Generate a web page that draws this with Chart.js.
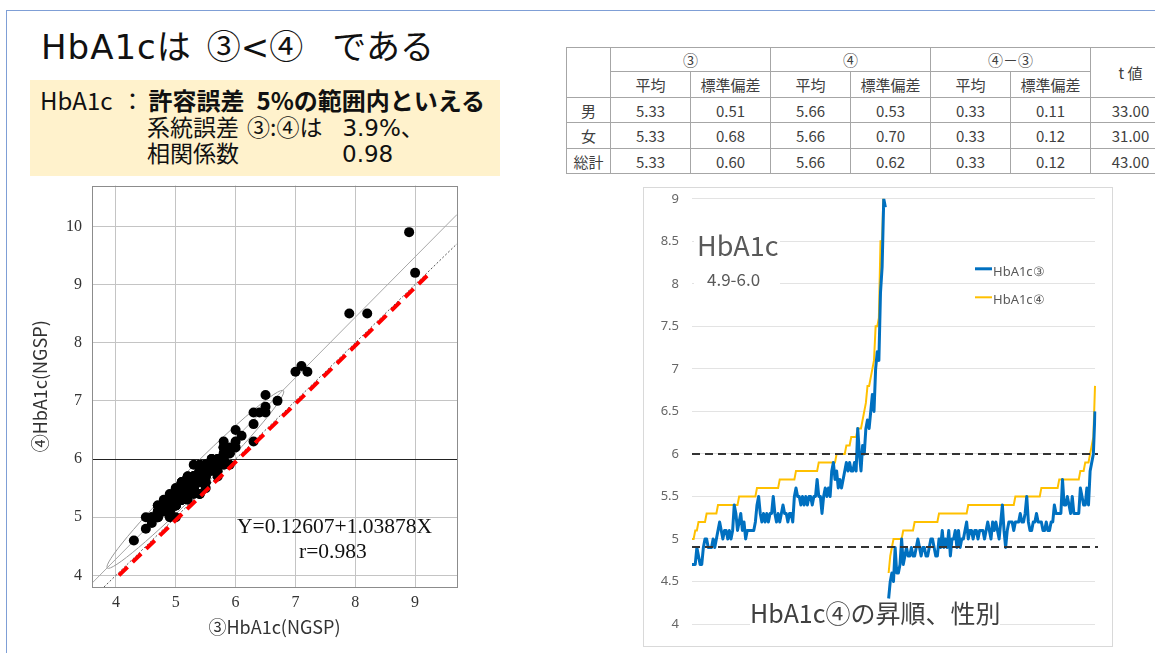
<!DOCTYPE html>
<html><head><meta charset="utf-8">
<script src="https://cdn.jsdelivr.net/npm/chart.js@4.4.1/dist/chart.umd.min.js"></script>
<style>
html,body{margin:0;padding:0;width:1155px;height:653px;overflow:hidden;background:#fff;}
body{position:relative;font-family:"Noto Sans CJK JP","Noto Sans",sans-serif;color:#222;}
.abs{position:absolute;white-space:nowrap;line-height:1;}
#frame{position:absolute;left:6px;top:10px;width:1300px;height:800px;border-left:1.5px solid #7f9fd6;border-top:1.5px solid #7f9fd6;}
#ybox{position:absolute;left:30px;top:80px;width:470px;height:96px;background:#FFF2CC;}
#tbl{position:absolute;left:566px;top:47px;width:684px;border-collapse:collapse;table-layout:fixed;font-size:15px;color:#404040;font-family:"Noto Sans CJK JP",sans-serif;}
#tbl td{border:1px solid #a6a6a6;text-align:center;padding:0;line-height:1;}
#lineWrap{position:absolute;left:643px;top:187px;width:470px;height:460px;border:1px solid #d9d9d9;box-sizing:border-box;}
#lineCanvas{position:absolute;left:644px;top:178px;}
#scatterCanvas{position:absolute;left:20px;top:166px;}
.serif{font-family:"Liberation Serif","Times New Roman",serif;color:#111;}
.lat{font-family:"DejaVu Sans",sans-serif;}
.cjk{font-family:"Noto Sans CJK JP",sans-serif;}
</style></head>
<body>
<div id="frame"></div>

<div class="abs" style="left:41px;top:28px;font-size:34px;color:#111;"><span class="lat" style="letter-spacing:1px">HbA1c</span><span class="cjk">は</span><span class="cjk" style="margin-left:16px">③</span><span class="lat">&lt;</span><span class="cjk">④</span><span class="cjk" style="margin-left:29px">である</span></div>

<div id="ybox"></div>
<div class="abs" style="left:40px;top:88px;font-size:24px;color:#111;">HbA1c<span style="margin-left:8px">：</span><b style="margin-left:4px">許容誤差</b><b style="margin-left:12px">5%の範囲内といえる</b></div>
<div class="abs" style="left:147px;top:115px;font-size:23px;color:#111;">系統誤差<span style="margin-left:8px">③:④は</span><span class="lat" style="margin-left:20px">3.9%</span>、</div>
<div class="abs" style="left:147px;top:141px;font-size:23px;color:#111;">相関係数<span class="lat" style="margin-left:103px">0.98</span></div>

<table id="tbl"></table>

<canvas id="scatterCanvas" width="450" height="479"></canvas>
<div class="abs serif" style="left:237px;top:516px;font-size:21.5px;">Y=0.12607+1.03878X</div>
<div class="abs serif" style="left:299px;top:541px;font-size:21.5px;">r=0.983</div>

<div id="lineWrap"></div>
<canvas id="lineCanvas" width="468" height="468"></canvas>
<div class="abs" style="left:694px;top:226px;width:86px;height:64px;background:#fff;"></div>
<div class="abs" style="left:697px;top:231px;font-size:27px;color:#595959;">HbA1c</div>
<div class="abs" style="left:707px;top:270px;font-size:17px;color:#595959;">4.9-6.0</div>
<div class="abs" style="left:750px;top:600px;font-size:25px;color:#404040;background:#fff;">HbA1c④の昇順、性別</div>

<script>
// ---------- table data ----------
const tblRowLabels = ['男','女','総計'];
const tblMean3 = [5.33,5.33,5.33];
const tblSd3   = [0.51,0.68,0.60];
const tblMean4 = [5.66,5.66,5.66];
const tblSd4   = [0.53,0.70,0.62];
const tblMeanD = [0.33,0.33,0.33];
const tblSdD   = [0.11,0.12,0.12];
const tblT     = [33.00,31.00,43.00];

// ---------- scatter axis ticks / reference lines ----------
const scatterXTicks = [4,5,6,7,8,9];
const scatterYTicks = [4,5,6,7,8,9,10];
const regressionLine = [{x:3.6,y:3.866},{x:9.7,y:10.203}];
const identityLine   = [{x:3.8,y:3.8},{x:9.7,y:9.7}];
const redDashLine    = [{x:4.05,y:4.0},{x:9.2,y:9.15}];
const ellipseTips    = [[3.855,4.126],[6.80,7.175]];

// ---------- HbA1c values (sorted by ④ within sex) ----------
const male4 = [
5.0,5.0,5.1,5.1,5.2,5.2,5.2,5.2,5.2,5.3,
5.3,5.3,5.3,5.3,5.3,5.3,5.4,5.4,5.4,5.4,
5.4,5.4,5.4,5.4,5.4,5.4,5.4,5.4,5.4,5.5,
5.5,5.5,5.5,5.5,5.5,5.5,5.5,5.5,5.5,5.5,
5.6,5.6,5.6,5.6,5.6,5.6,5.6,5.6,5.6,5.6,
5.6,5.6,5.6,5.6,5.7,5.7,5.7,5.7,5.7,5.7,
5.7,5.7,5.7,5.7,5.8,5.8,5.8,5.8,5.8,5.8,
5.8,5.8,5.8,5.8,5.8,5.8,5.8,5.8,5.9,5.9,
5.9,5.9,5.9,5.9,5.9,5.9,5.9,5.9,5.9,6.0,
6.0,6.0,6.0,6.0,6.0,6.1,6.1,6.1,6.2,6.2,
6.2,6.2,6.3,6.3,6.3,6.4,6.5,6.6,6.8,6.8,
6.9,7.0,7.1,7.5,7.5,7.6,8.5,8.5,9.2,9.9];
const male3 = [
4.7,4.7,4.7,4.9,4.8,4.7,4.7,4.9,5.0,5.0,
4.9,4.9,4.9,5.0,4.9,5.0,5.1,5.2,5.1,5.0,
5.1,5.1,5.0,5.1,5.0,5.1,5.4,5.3,5.1,5.2,
5.3,5.1,5.2,5.0,5.1,5.1,5.1,5.1,5.1,5.2,
5.4,5.5,5.3,5.2,5.3,5.2,5.3,5.2,5.3,5.3,
5.5,5.3,5.2,5.3,5.2,5.3,5.4,5.3,5.3,5.2,
5.3,5.3,5.2,5.5,5.6,5.5,5.5,5.4,5.5,5.4,
5.5,5.4,5.5,5.5,5.4,5.5,5.5,5.7,5.5,5.5,
5.3,5.5,5.6,5.5,5.6,5.5,5.8,5.9,5.7,5.8,
5.6,5.7,5.6,5.7,5.8,5.9,5.8,5.9,5.8,5.8,
5.9,5.8,6.3,6.0,5.8,6.1,6.0,6.3,6.4,6.3,
6.5,6.7,6.5,7.0,7.2,7.1,7.9,8.2,9.0,8.9];
const female4 = [
4.6,4.8,4.9,5.0,5.0,5.0,5.0,5.0,5.0,5.1,
5.1,5.1,5.1,5.1,5.1,5.1,5.2,5.2,5.2,5.2,
5.2,5.2,5.2,5.2,5.2,5.2,5.2,5.2,5.2,5.2,
5.2,5.3,5.3,5.3,5.3,5.3,5.3,5.3,5.3,5.3,
5.3,5.3,5.3,5.3,5.3,5.3,5.3,5.3,5.3,5.4,
5.4,5.4,5.4,5.4,5.4,5.4,5.4,5.4,5.4,5.4,
5.4,5.4,5.4,5.4,5.4,5.4,5.4,5.4,5.4,5.4,
5.4,5.4,5.4,5.4,5.4,5.4,5.4,5.4,5.5,5.5,
5.5,5.5,5.5,5.5,5.5,5.5,5.5,5.5,5.5,5.5,
5.5,5.5,5.5,5.5,5.6,5.6,5.6,5.6,5.6,5.6,
5.6,5.6,5.6,5.6,5.6,5.7,5.7,5.7,5.7,5.7,
5.7,5.7,5.7,5.7,5.7,5.7,5.7,5.7,5.8,5.8,
5.8,5.9,5.9,5.9,6.0,6.1,6.2,6.8];
const female3 = [
4.3,4.5,4.6,4.5,4.9,4.6,4.6,4.7,5.0,4.7,
4.8,4.9,4.8,4.8,4.9,4.8,4.8,4.9,5.0,4.9,
4.8,4.9,4.9,4.8,4.8,4.9,5.0,5.0,4.9,4.8,
4.8,5.0,4.9,5.1,4.9,5.0,4.9,5.1,4.8,5.0,
5.0,5.1,4.9,5.1,4.9,5.0,5.0,5.1,5.2,5.0,
5.1,5.1,5.0,5.1,5.1,5.0,5.1,5.1,5.1,5.0,
5.1,5.2,5.1,5.0,5.2,5.1,5.2,5.1,5.0,5.2,
5.4,5.1,4.9,5.1,5.2,5.2,5.2,5.1,5.2,5.2,
5.2,5.3,5.2,5.2,5.3,5.5,5.2,5.1,5.1,5.2,
5.2,5.3,5.2,5.2,5.2,5.1,5.1,5.2,5.1,5.1,
5.2,5.2,5.4,5.3,5.3,5.3,5.3,5.7,5.4,5.4,
5.5,5.4,5.3,5.5,5.3,5.3,5.3,5.3,5.6,5.5,
5.4,5.4,5.6,5.4,5.8,5.9,6.0,6.5];

const lineYMin = 4, lineYMax = 9, lineYStep = 0.5;
const refLines = [6.0, 4.9];
const seriesNames = ['HbA1c③','HbA1c④'];
const scatterXTitle = '③HbA1c(NGSP)';
const scatterYTitle = '④HbA1c(NGSP)';

// ---------- build table ----------
(function(){
  const t = document.getElementById('tbl');
  let h = '<colgroup><col style="width:44px">';
  for (let i=0;i<8;i++) h += '<col style="width:80px">';
  h += '</colgroup>';
  h += '<tr style="height:24px"><td rowspan="2"></td><td colspan="2">③</td><td colspan="2">④</td><td colspan="2">④－③</td><td rowspan="2">t 値</td></tr>';
  h += '<tr style="height:26px"><td>平均</td><td>標準偏差</td><td>平均</td><td>標準偏差</td><td>平均</td><td>標準偏差</td></tr>';
  const rh = [25,26,25];
  tblRowLabels.forEach((lab,i)=>{
    const v = [tblMean3[i],tblSd3[i],tblMean4[i],tblSd4[i],tblMeanD[i],tblSdD[i],tblT[i]].map(x=>x.toFixed(2));
    h += '<tr style="height:'+rh[i]+'px"><td>'+lab+'</td>'+v.map(x=>'<td>'+x+'</td>').join('')+'</tr>';
  });
  t.innerHTML = h;
})();

// ---------- scatter ----------
const scatterPts = [];
male3.forEach((v,i)=>scatterPts.push({x:v,y:male4[i]}));
female3.forEach((v,i)=>scatterPts.push({x:v,y:female4[i]}));

const scatterDeco = {
  id:'scatterDeco',
  beforeDatasetsDraw(chart){
    const {ctx, chartArea:a, scales:{x,y}} = chart;
    ctx.save();
    ctx.beginPath(); ctx.rect(a.left,a.top,a.right-a.left,a.bottom-a.top); ctx.clip();
    const p1 = [x.getPixelForValue(ellipseTips[0][0]), y.getPixelForValue(ellipseTips[0][1])];
    const p2 = [x.getPixelForValue(ellipseTips[1][0]), y.getPixelForValue(ellipseTips[1][1])];
    const cx=(p1[0]+p2[0])/2, cy=(p1[1]+p2[1])/2;
    const rx=Math.hypot(p2[0]-p1[0],p2[1]-p1[1])/2;
    const ang=Math.atan2(p2[1]-p1[1],p2[0]-p1[0]);
    ctx.beginPath(); ctx.ellipse(cx,cy,rx,11,ang,0,Math.PI*2);
    ctx.strokeStyle='#9a9a9a'; ctx.lineWidth=1; ctx.stroke();
    ctx.restore();
  },
  afterDraw(chart){
    const {ctx, chartArea:a} = chart;
    ctx.save(); ctx.strokeStyle='#8c8c8c'; ctx.lineWidth=1;
    ctx.strokeRect(Math.round(a.left)+0.5,Math.round(a.top)+0.5,Math.round(a.right-a.left),Math.round(a.bottom-a.top));
    ctx.restore();
  }
};

new Chart(document.getElementById('scatterCanvas'), {
  type:'scatter',
  data:{datasets:[
    {data:redDashLine, showLine:true, borderColor:'#ff0000', borderWidth:4, borderDash:[12,7], pointRadius:0, fill:false},
    {data:scatterPts, backgroundColor:'#000', borderWidth:0, pointRadius:5},
    {data:regressionLine, showLine:true, borderColor:'#a8a8a8', borderWidth:1, pointRadius:0},
    {data:identityLine, showLine:true, borderColor:'#555', borderWidth:1, borderDash:[2,2], pointRadius:0}
  ]},
  options:{
    responsive:false, animation:false, devicePixelRatio:1,
    layout:{padding:{top:0,right:13,left:0,bottom:0}},
    plugins:{legend:{display:false}, tooltip:{enabled:false}},
    scales:{
      x:{type:'linear', min:3.6, max:9.7,
        afterBuildTicks:s=>{s.ticks=scatterXTicks.map(v=>({value:v}));},
        afterFit:s=>{s.height=58;},
        grid:{color:'#c4c4c4', drawTicks:false}, border:{display:false},
        ticks:{padding:6, autoSkip:false, maxRotation:0, color:'#333', font:{family:'"Liberation Serif", serif', size:16}},
        title:{display:true, text:scatterXTitle, color:'#333', font:{family:'"Noto Sans CJK JP", sans-serif', size:18}, padding:{top:0,bottom:7}}
      },
      y:{type:'linear', min:3.8, max:10.7,
        afterBuildTicks:s=>{s.ticks=scatterYTicks.map(v=>({value:v}));},
        afterFit:s=>{s.width=72;},
        grid:{color:c=>(c.tick && c.tick.value===6)?'#222':'#c4c4c4', drawTicks:false}, border:{display:false},
        ticks:{padding:10, autoSkip:false, color:'#333', font:{family:'"Liberation Serif", serif', size:16}},
        title:{display:true, text:scatterYTitle, color:'#333', font:{family:'"Noto Sans CJK JP", sans-serif', size:18}, padding:{top:9,bottom:0}}
      }
    }
  },
  plugins:[scatterDeco]
});

// ---------- line chart ----------
const series3 = male3.concat([null], female3);
const series4 = male4.concat([null], female4);
const idxLabels = series3.map((_,i)=>String(i+1));

const lineDeco = {
  id:'lineDeco',
  afterDatasetsDraw(chart){
    const {ctx, chartArea:a, scales:{y}} = chart;
    ctx.save();
    ctx.strokeStyle='#333'; ctx.lineWidth=2; ctx.setLineDash([8,5]);
    refLines.forEach(v=>{
      const py=Math.round(y.getPixelForValue(v));
      ctx.beginPath(); ctx.moveTo(a.left,py); ctx.lineTo(a.right+3,py); ctx.stroke();
    });
    ctx.restore();
  },
  afterDraw(chart){
    const {ctx, chartArea:a} = chart;
    ctx.save();
    chart.data.datasets.forEach((ds,i)=>{
      const ly = a.top + 70 + i*28.5;
      ctx.strokeStyle = ds.borderColor; ctx.lineWidth = ds.borderWidth;
      ctx.beginPath(); ctx.moveTo(a.left+283, ly); ctx.lineTo(a.left+300, ly); ctx.stroke();
      ctx.fillStyle='#595959'; ctx.font='13px "Noto Sans", sans-serif'; ctx.textBaseline='middle';
      ctx.fillText(ds.label, a.left+301, ly+3);
    });
    ctx.restore();
  }
};

new Chart(document.getElementById('lineCanvas'), {
  type:'line',
  data:{labels:idxLabels, datasets:[
    {label:seriesNames[0], data:series3, borderColor:'#0070C0', borderWidth:3, pointRadius:0, tension:0, spanGaps:false, borderJoinStyle:'round'},
    {label:seriesNames[1], data:series4, borderColor:'#FFC000', borderWidth:2, pointRadius:0, tension:0, spanGaps:false}
  ]},
  options:{
    responsive:false, animation:false, devicePixelRatio:1,
    layout:{padding:{top:0,right:17,bottom:22,left:0}},
    plugins:{legend:{display:false}, tooltip:{enabled:false}},
    scales:{
      x:{display:false},
      y:{min:lineYMin, max:lineYMax,
        afterFit:s=>{s.width=48;},
        ticks:{stepSize:lineYStep, padding:13, color:'#666', font:{family:'"Noto Sans", sans-serif', size:13},
               callback:v=>String(Number(v))},
        grid:{color:'#e3e3e3', drawTicks:false}, border:{display:false}}
    }
  },
  plugins:[lineDeco]
});
</script>
</body></html>
